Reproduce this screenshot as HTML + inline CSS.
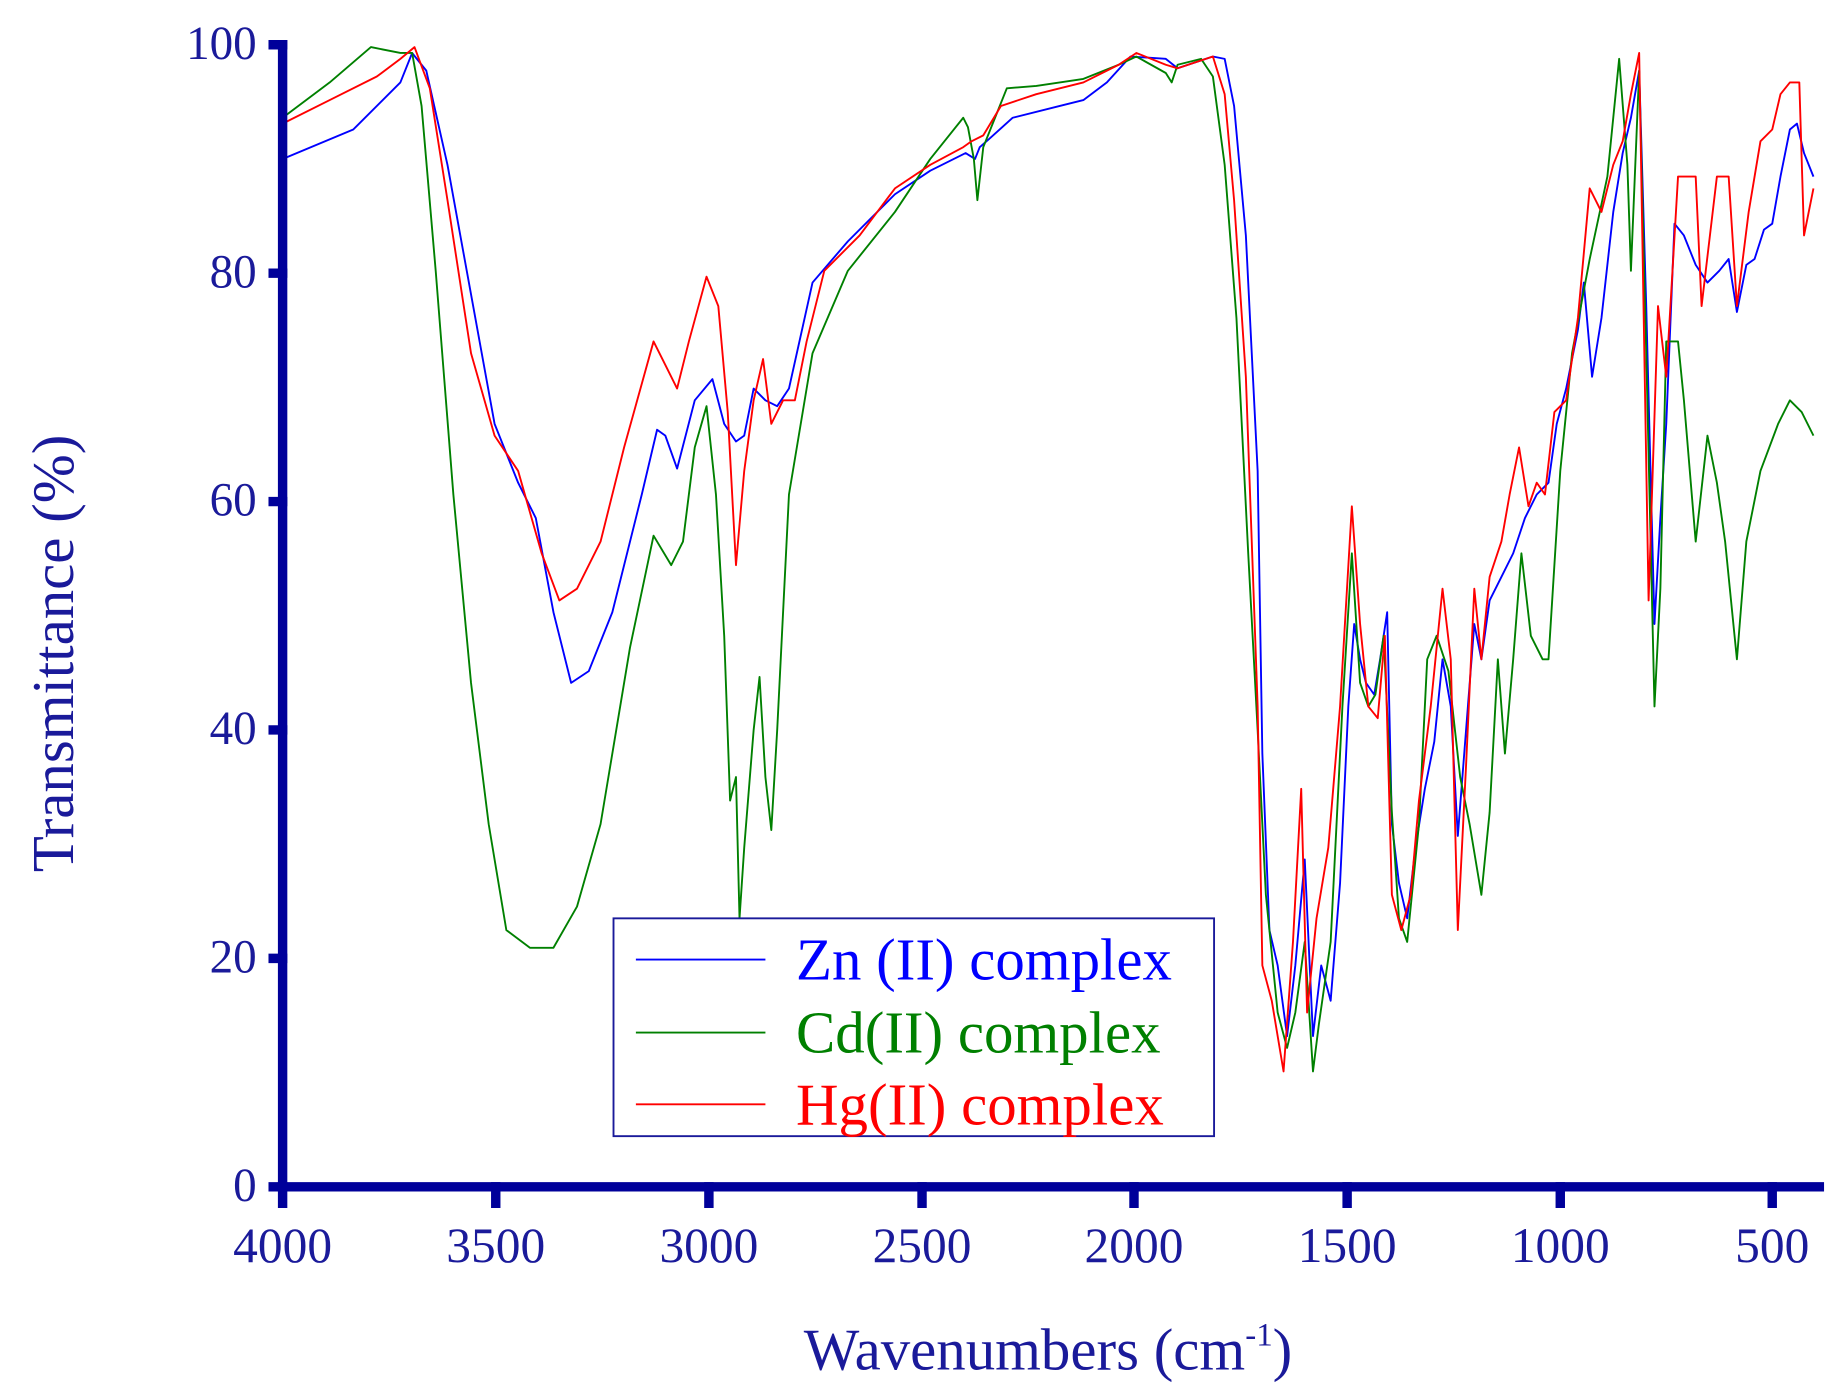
<!DOCTYPE html>
<html><head><meta charset="utf-8"><style>
html,body{margin:0;padding:0;background:#fff;}
svg{display:block;}
text{font-family:"Liberation Serif",serif;}
</style></head><body>
<svg width="1837" height="1394" viewBox="0 0 1560 1184" preserveAspectRatio="none" xmlns="http://www.w3.org/2000/svg">
<g fill="none" stroke-linejoin="round" stroke-width="1.6">
<polyline stroke="#0000ff" points="240,135 300,110 340,70 350,45 362,60 380,140 400,250 420,360 440,410 455,440 470,520 485,580 500,570 520,520 545,420 558,365 565,370 575,398 590,340 605,322 615,360 625,375 632,370 640,330 650,340 660,345 670,330 690,240 720,205 760,165 790,145 820,130 828,135 832,125 840,118 860,100 900,90 920,85 940,70 960,48 990,50 1000,58 1030,48 1040,50 1048,90 1058,200 1068,400 1072,640 1078,790 1085,820 1093,880 1100,820 1108,730 1115,880 1122,820 1130,850 1138,750 1145,600 1150,530 1155,560 1160,580 1167,590 1172,560 1178,520 1182,700 1188,750 1195,780 1202,720 1210,670 1218,630 1225,560 1232,600 1238,710 1245,620 1252,530 1258,560 1265,510 1275,490 1285,470 1295,440 1305,420 1315,410 1322,360 1330,330 1340,280 1345,240 1352,320 1360,270 1370,180 1378,130 1385,100 1392,60 1398,260 1405,530 1410,440 1415,360 1422,190 1430,200 1440,225 1450,240 1460,230 1468,220 1475,265 1483,225 1490,220 1498,195 1505,190 1512,150 1520,110 1526,105 1532,130 1540,150"/>
<polyline stroke="#008000" points="240,100 280,70 315,40 340,45 350,45 358,90 370,230 385,420 400,580 415,700 430,790 450,805 470,805 490,770 510,700 535,550 555,455 570,480 580,460 590,380 600,345 608,420 615,540 620,680 625,660 628,780 632,720 640,620 645,575 650,660 655,705 660,620 670,420 690,300 720,230 760,180 790,135 818,100 822,108 827,135 830,170 835,125 845,100 855,75 880,73 920,67 950,55 965,48 990,62 995,70 1000,55 1020,50 1030,65 1040,140 1050,270 1060,470 1068,620 1075,760 1085,860 1093,890 1100,860 1108,800 1115,910 1120,870 1130,800 1140,600 1148,470 1155,580 1162,600 1168,590 1175,540 1182,690 1188,780 1195,800 1205,700 1212,560 1220,540 1230,570 1240,660 1248,700 1258,760 1265,690 1272,560 1278,640 1285,560 1292,470 1300,540 1310,560 1315,560 1325,400 1335,300 1350,220 1365,150 1375,50 1382,140 1385,230 1392,60 1398,300 1405,600 1410,500 1415,290 1425,290 1430,340 1440,460 1450,370 1458,410 1465,460 1475,560 1483,460 1495,400 1510,360 1520,340 1530,350 1540,370"/>
<polyline stroke="#ff0000" points="240,105 280,85 320,65 340,50 352,40 365,75 380,170 400,300 420,370 440,400 460,470 475,510 490,500 510,460 530,380 555,290 565,310 575,330 585,290 600,235 610,260 618,350 625,480 632,400 640,340 648,305 655,360 665,340 675,340 685,290 700,230 730,200 760,160 790,140 818,125 825,120 835,115 850,90 880,80 920,70 950,55 965,45 990,55 1000,58 1030,48 1040,80 1048,170 1058,320 1068,600 1072,820 1080,850 1090,910 1098,800 1105,670 1110,860 1118,780 1128,720 1138,600 1148,430 1155,530 1162,600 1170,610 1176,540 1182,760 1190,790 1198,760 1205,680 1215,600 1225,500 1232,560 1238,790 1245,650 1252,500 1258,560 1265,490 1275,460 1282,420 1290,380 1298,430 1305,410 1312,420 1320,350 1330,340 1340,270 1350,160 1360,180 1370,140 1378,120 1385,80 1392,45 1400,510 1408,260 1415,320 1425,150 1440,150 1445,260 1458,150 1468,150 1475,260 1485,180 1495,120 1505,110 1512,80 1520,70 1528,70 1532,200 1540,160"/>
</g>
<g stroke="#00009a" stroke-width="8" stroke-linecap="square">
<line x1="240" y1="38" x2="240" y2="1008"/>
<line x1="240" y1="1008" x2="1545" y2="1008"/>
<line x1="232" y1="38" x2="240" y2="38"/>
<line x1="232" y1="232" x2="240" y2="232"/>
<line x1="232" y1="426" x2="240" y2="426"/>
<line x1="232" y1="620" x2="240" y2="620"/>
<line x1="232" y1="814" x2="240" y2="814"/>
<line x1="232" y1="1008" x2="240" y2="1008"/>
<line x1="240" y1="1008" x2="240" y2="1022"/>
<line x1="421" y1="1008" x2="421" y2="1022"/>
<line x1="602" y1="1008" x2="602" y2="1022"/>
<line x1="783" y1="1008" x2="783" y2="1022"/>
<line x1="963" y1="1008" x2="963" y2="1022"/>
<line x1="1144" y1="1008" x2="1144" y2="1022"/>
<line x1="1325" y1="1008" x2="1325" y2="1022"/>
<line x1="1505" y1="1008" x2="1505" y2="1022"/>
</g>
<g fill="#1a1a9a" font-size="40" text-anchor="end">
<text x="218" y="50">100</text>
<text x="218" y="244">80</text>
<text x="218" y="438">60</text>
<text x="218" y="632">40</text>
<text x="218" y="826">20</text>
<text x="218" y="1020">0</text>
</g>
<g fill="#1a1a9a" font-size="42" text-anchor="middle">
<text x="240" y="1072">4000</text>
<text x="421" y="1072">3500</text>
<text x="602" y="1072">3000</text>
<text x="783" y="1072">2500</text>
<text x="963" y="1072">2000</text>
<text x="1144" y="1072">1500</text>
<text x="1325" y="1072">1000</text>
<text x="1505" y="1072">500</text>
</g>
<text x="890" y="1163" fill="#1a1a9a" font-size="50" text-anchor="middle">Wavenumbers (cm<tspan dy="-20" font-size="28">-1</tspan><tspan dy="20">)</tspan></text>
<text transform="translate(62,555) rotate(-90)" fill="#1a1a9a" font-size="50" text-anchor="middle">Transmittance (%)</text>
<rect x="521" y="780" width="510" height="185" fill="#fff" stroke="#1a1a9a" stroke-width="1.6"/>
<line x1="540" y1="815" x2="650" y2="815" stroke="#0000ff" stroke-width="1.6"/>
<line x1="540" y1="877" x2="650" y2="877" stroke="#008000" stroke-width="1.6"/>
<line x1="540" y1="938" x2="650" y2="938" stroke="#ff0000" stroke-width="1.6"/>
<g font-size="50">
<text x="676" y="832" fill="#0000ff">Zn (II) complex</text>
<text x="676" y="894" fill="#008000">Cd(II) complex</text>
<text x="676" y="955" fill="#ff0000">Hg(II) complex</text>
</g>
</svg>
</body></html>
